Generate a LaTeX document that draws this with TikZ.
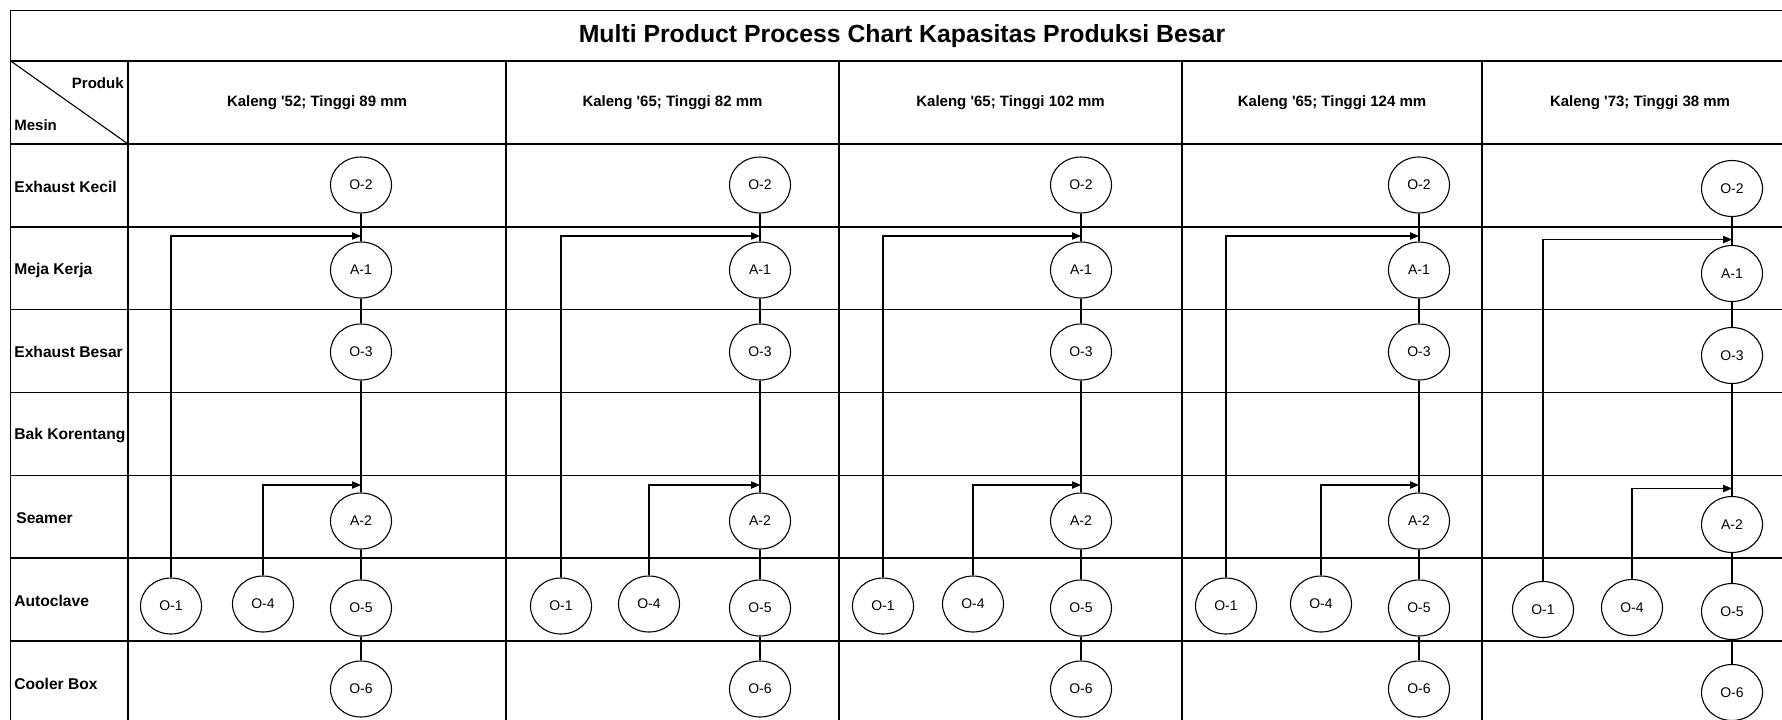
\documentclass[tikz,border=0pt]{standalone}
\usepackage{fontspec}
\setmainfont{Liberation Sans}[Ligatures=TeXOff]
\usetikzlibrary{shapes.geometric,arrows.meta}
\newcommand{\apo}{\symbol{39}}
\tikzset{
  grid/.style={line width=0.7pt,black},
  proc/.style={ellipse,draw,line width=0.55pt,minimum width=30.5pt,minimum height=28pt,inner sep=0pt,font=\fontsize{7pt}{8pt}\selectfont},
  link/.style={line width=0.55pt},
  arr/.style={line width=0.55pt,-{Triangle[length=4.4pt,width=3.6pt]}},
  rowlab/.style={anchor=west,font=\bfseries\fontsize{7.8pt}{9pt}\selectfont,inner sep=0pt},
  collab/.style={font=\bfseries\fontsize{7.5pt}{9pt}\selectfont,inner sep=0pt},
  titlelab/.style={font=\bfseries\fontsize{12.4pt}{14pt}\selectfont,inner sep=0pt}
}
\begin{document}
\begin{tikzpicture}[x=0.5pt,y=-0.5pt]
\useasboundingbox (0,0) rectangle (1782,719);
\clip (0,0) rectangle (1782,719);
% grid
\draw[grid] (10.7,10.7) rectangle (1798,740);
\draw[grid] (10.7,61) -- (1798,61);
\foreach \k in {0,...,6} {
  \draw[grid] (10.7,144+82.8*\k) -- (1798,144+82.8*\k);
}
\foreach \xx in {128,506,839,1182,1482} {
  \draw[grid] (\xx,61) -- (\xx,740);
}
\draw[line width=0.55pt] (10.7,61) -- (128,144);
% title and headers
\node[titlelab] (title) at (902,36) {Multi Product Process Chart Kapasitas Produksi Besar};
\node[collab,anchor=east] (produk) at (124,83) {Produk};
\node[collab,anchor=west] (mesin) at (14,125) {Mesin};
\node[collab] (h1) at (317,103) {Kaleng \apo 52; Tinggi 89 mm};
\node[collab] (h2) at (672.5,103) {Kaleng \apo 65; Tinggi 82 mm};
\node[collab] (h3) at (1010.5,103) {Kaleng \apo 65; Tinggi 102 mm};
\node[collab] (h4) at (1332,103) {Kaleng \apo 65; Tinggi 124 mm};
\node[collab] (h5) at (1640,103) {Kaleng \apo 73; Tinggi 38 mm};
% row labels
\node[rowlab] (r1) at (14,187) {Exhaust Kecil};
\node[rowlab] (r2) at (14,270) {Meja Kerja};
\node[rowlab] (r3) at (14,352) {Exhaust Besar};
\node[rowlab] (r4) at (14,435) {Bak Korentang};
\node[rowlab] (r5) at (16,518) {Seamer};
\node[rowlab] (r6) at (14,601) {Autoclave};
\node[rowlab] (r7) at (14,684) {Cooler Box};
% process charts
\foreach \i/\mx/\ax/\bx/\dy in {1/361/171/263/0, 2/760/561/649/0, 3/1081/883/973/0, 4/1419/1226/1321/0, 5/1732/1543/1632/3.5} {
  \node[proc] (O2-\i) at (\mx,185+\dy) {O-2};
  \node[proc] (A1-\i) at (\mx,270+\dy) {A-1};
  \node[proc] (O3-\i) at (\mx,352+\dy) {O-3};
  \node[proc] (A2-\i) at (\mx,521+\dy) {A-2};
  \node[proc] (O5-\i) at (\mx,608+\dy) {O-5};
  \node[proc] (O6-\i) at (\mx,689+\dy) {O-6};
  \node[proc] (O1-\i) at (\ax,606+\dy) {O-1};
  \node[proc] (O4-\i) at (\bx,604+\dy) {O-4};
  \coordinate (p1-\i) at (\mx,236+\dy);
  \coordinate (p2-\i) at (\mx,485+\dy);
  \draw[link] (O2-\i) -- (A1-\i);
  \draw[link] (A1-\i) -- (O3-\i);
  \draw[link] (O3-\i) -- (A2-\i);
  \draw[link] (A2-\i) -- (O5-\i);
  \draw[link] (O5-\i) -- (O6-\i);
  \draw[arr] (O1-\i.north) |- (p1-\i);
  \draw[arr] (O4-\i.north) |- (p2-\i);
}
\end{tikzpicture}
\end{document}
